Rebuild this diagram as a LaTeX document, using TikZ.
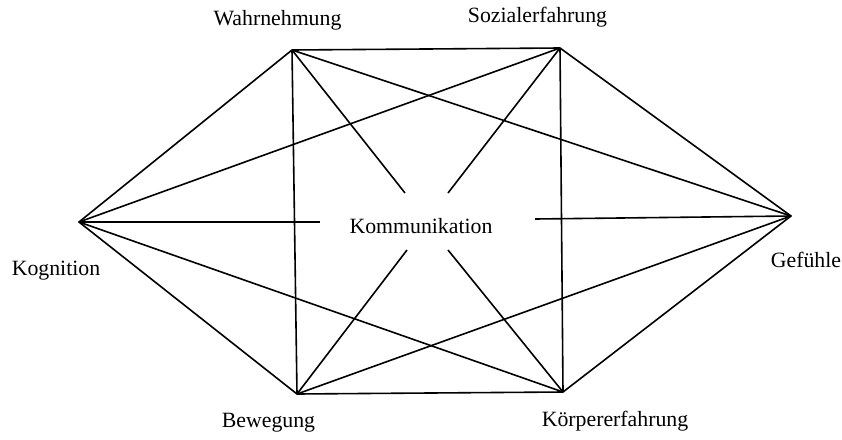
\documentclass[tikz,border=0pt]{standalone}
\usepackage{fontspec}
\setmainfont{Liberation Serif}
\usetikzlibrary{positioning}

\begin{document}
\begin{tikzpicture}[
    x=1pt, y=-1pt,
    edge/.style={line width=1.6pt, line join=round},
    term/.style={font=\fontsize{21.8}{26}\selectfont, inner sep=0pt, anchor=base}
]
    \useasboundingbox (0,0) rectangle (842,439);

    % Corner points
    \coordinate (wahr) at (292,50);
    \coordinate (sozial) at (560,48);
    \coordinate (kogn) at (79,222);
    \coordinate (gef) at (791,216);
    \coordinate (beweg) at (297,394);
    \coordinate (koerper) at (563,392);

    % Labels
    \node[term] (wahrL) at (277.5,25) {Wahrnehmung};
    \node[term] (sozialL) at (537.5,22) {Sozialerfahrung};
    \node[term] (kognL) at (56,275) {Kognition};
    \node[term] (gefL) at (806,267) {Gefühle};
    \node[term] (bewegL) at (268.5,427) {Bewegung};
    \node[term] (koerperL) at (615,426) {Körpererfahrung};

    % Center
    \node[term] (komm) at (421,233) {Kommunikation};
    \coordinate (kommW) at (405,193);
    \coordinate (kommS) at (448,193);
    \coordinate (kommK) at (320,222);
    \coordinate (kommG) at (535,219);
    \coordinate (kommB) at (407,250);
    \coordinate (kommKo) at (448,250);

    % Outline
    \draw[edge] (wahr) -- (sozial) -- (gef) -- (koerper) -- (beweg) -- (kogn) -- cycle;

    % Verticals and diagonals
    \draw[edge] (wahr) -- (beweg);
    \draw[edge] (sozial) -- (koerper);
    \draw[edge] (wahr) -- (gef);
    \draw[edge] (sozial) -- (kogn);
    \draw[edge] (kogn) -- (koerper);
    \draw[edge] (beweg) -- (gef);

    % Spokes
    \draw[edge] (wahr) -- (kommW);
    \draw[edge] (sozial) -- (kommS);
    \draw[edge] (kogn) -- (kommK);
    \draw[edge] (gef) -- (kommG);
    \draw[edge] (beweg) -- (kommB);
    \draw[edge] (koerper) -- (kommKo);
\end{tikzpicture}
\end{document}
